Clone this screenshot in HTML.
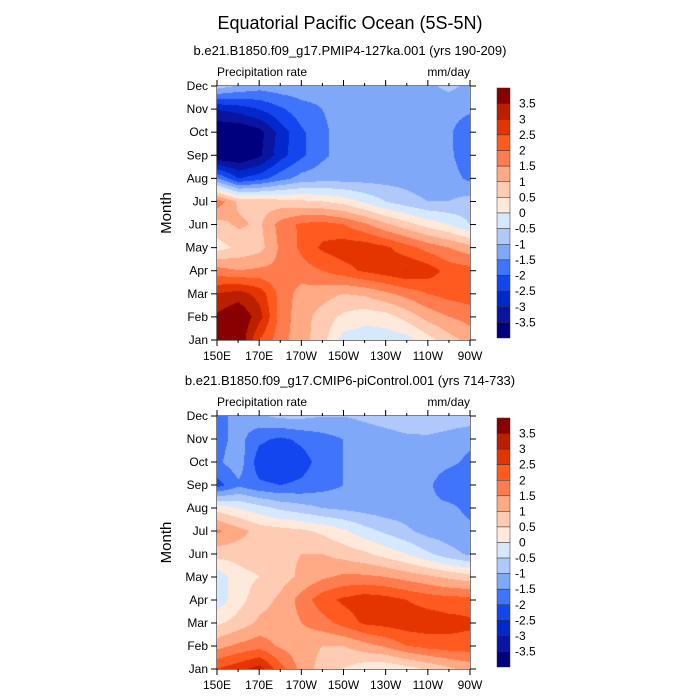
<!DOCTYPE html>
<html><head><meta charset="utf-8"><style>
body{margin:0;background:#fff;width:700px;height:700px;overflow:hidden;font-family:"Liberation Sans",sans-serif}
</style></head><body>
<svg id="svg" width="700" height="700" xmlns="http://www.w3.org/2000/svg" style="position:absolute;left:0;top:0">
<text x="350" y="29" text-anchor="middle" font-size="18">Equatorial Pacific Ocean (5S-5N)</text>
</svg>
<canvas id="c1" width="253" height="254" style="position:absolute;left:217px;top:86px"></canvas>
<canvas id="c2" width="253" height="253" style="position:absolute;left:217px;top:416px"></canvas>
<script>
const months=["Jan","Feb","Mar","Apr","May","Jun","Jul","Aug","Sep","Oct","Nov","Dec"];
const lonLabels=["150E","170E","170W","150W","130W","110W","90W"];
const cbLabels=["3.5","3","2.5","2","1.5","1","0.5","0","-0.5","-1","-1.5","-2","-2.5","-3","-3.5"];
const colors=["#00007f","#0a14a0","#0028cc","#1446f0","#4074fa","#80a8f8","#b0c8fa","#d6e8ff","#ffe9da","#ffcbb3","#ffa985","#ff7c4e","#ff5a20","#e43500","#bb1f00","#880000"];
const data1=[
[3.8,4,2.5,1.7,1.2,0.7,-0.2,-0.3,-0.3,-0.2,0.3,0.8,1.2],
[3.6,4,3.2,1.8,1.2,0.8,0.4,0.2,0.3,0.7,1.2,1.5,1.7],
[3.0,3.2,2.8,1.8,1.3,1.2,1.0,1.1,1.4,1.7,2.0,2.2,2.3],
[1.7,1.5,1.6,1.6,1.8,2.0,2.3,2.6,2.8,3.0,2.8,2.3,2.2],
[0.3,0.6,0.8,1.6,2.1,2.6,2.8,2.8,2.6,2.2,1.8,1.5,1.2],
[0.8,1.1,0.9,1.7,2.1,2.2,2.0,1.6,1.1,0.7,0.3,0.0,-0.5],
[1.8,0.9,0.8,0.7,0.6,0.5,0.3,-0.1,-0.5,-0.8,-1.0,-1.0,-0.8],
[-1.5,-2.5,-2.2,-1.7,-1.3,-1.2,-1.2,-1.2,-1.2,-1.2,-1.3,-1.3,-1.6],
[-4,-4,-3.6,-2.7,-2.1,-1.6,-1.3,-1.3,-1.3,-1.3,-1.3,-1.4,-1.8],
[-4,-4,-3.7,-2.8,-2.1,-1.6,-1.3,-1.3,-1.3,-1.3,-1.3,-1.4,-1.9],
[-3,-2.8,-2.5,-2.1,-1.7,-1.5,-1.3,-1.3,-1.3,-1.3,-1.3,-1.3,-1.4],
[-0.8,-1.1,-1.3,-1.2,-1.2,-1.3,-1.3,-1.3,-1.2,-1.2,-1.1,-0.9,-1.1]];
const data2=[
[2.5,2.8,3.2,2.2,1.3,0.8,0.5,0.2,0.1,0.3,0.6,0.9,1.2],
[1.3,1.6,1.8,1.4,1.2,1.0,1.0,1.3,1.6,2.0,2.2,2.3,2.3],
[0.4,0.7,1.1,1.2,1.5,1.8,2.2,2.6,2.7,2.8,2.8,2.7,2.6],
[-0.3,0.3,0.8,1.1,1.7,2.3,2.6,2.8,2.7,2.5,2.3,2.2,2.2],
[-0.3,0.3,0.5,0.8,1.1,1.4,1.6,1.6,1.5,1.3,1.1,0.9,0.7],
[0.7,0.7,0.8,0.9,1.0,1.0,0.8,0.6,0.3,0.0,-0.4,-0.8,-1.1],
[1.6,1.2,0.8,0.7,0.6,0.4,0.1,-0.3,-0.6,-0.9,-1.2,-1.3,-1.4],
[0.3,0.0,-0.3,-0.6,-0.8,-1.0,-1.1,-1.2,-1.3,-1.3,-1.4,-1.4,-1.6],
[-2.2,-1.6,-1.9,-2.0,-1.9,-1.7,-1.5,-1.3,-1.3,-1.3,-1.4,-1.8,-1.7],
[-1.6,-1.2,-2.3,-2.45,-2.2,-1.8,-1.5,-1.4,-1.3,-1.3,-1.3,-1.4,-1.6],
[-1.7,-1.3,-1.9,-2.1,-1.9,-1.7,-1.5,-1.3,-1.2,-1.1,-1.1,-1.2,-1.4],
[-1.6,-1.4,-1.1,-0.9,-0.9,-1.0,-1.0,-0.9,-0.8,-0.7,-0.6,-0.7,-0.7]];

const NS="http://www.w3.org/2000/svg";
const svg=document.getElementById('svg');
function mk(tag,attrs,name,text){const e=document.createElementNS(NS,tag);for(const k in attrs)e.setAttribute(k,attrs[k]);


if(text!==undefined)e.textContent=text;svg.appendChild(e);return e;}
function hex(c){return [parseInt(c.substr(1,2),16),parseInt(c.substr(3,2),16),parseInt(c.substr(5,2),16)];}
function idx(v){let i=Math.floor((v+3.5)/0.5)+1;return Math.max(0,Math.min(15,i));}
function drawContour(cv,data){
 const ctx=cv.getContext('2d');const W=cv.width,H=cv.height;const img=ctx.createImageData(W,H);
 const nr=data.length,nc=data[0].length;
 for(let py=0;py<H;py++){const fy=(H-1-py)/(H-1)*(nr-1);const r0=Math.min(nr-2,Math.floor(fy));const ty=fy-r0;
  for(let px=0;px<W;px++){const fx=px/(W-1)*(nc-1);const c0=Math.min(nc-2,Math.floor(fx));const tx=fx-c0;
   const v=(data[r0][c0]*(1-tx)+data[r0][c0+1]*tx)*(1-ty)+(data[r0+1][c0]*(1-tx)+data[r0+1][c0+1]*tx)*ty;
   const col=hex(colors[idx(v)]);const o=(py*W+px)*4;img.data[o]=col[0];img.data[o+1]=col[1];img.data[o+2]=col[2];img.data[o+3]=255;}}
 ctx.putImageData(img,0,0);}
drawContour(document.getElementById('c1'),data1);
drawContour(document.getElementById('c2'),data2);

function panel(top,h,sub){
 const L=217,R=470,B=top+h;
 mk('text',{x:350,y:top-31,'text-anchor':'middle','font-size':13},'panel-subtitle',sub);
 mk('text',{x:L,y:top-10,'font-size':12},'variable-label','Precipitation rate');
 mk('text',{x:R,y:top-10,'text-anchor':'end','font-size':12},'units-label','mm/day');
 mk('rect',{x:L,y:top,width:R-L,height:h,fill:'none',stroke:'#000','stroke-width':1},'plot-frame');
 const xs=v=>L+(v/120)*(R-L);
 for(let d=0;d<=120;d+=10){const x=xs(d);const len=d%20==0?6:3;
  mk('line',{x1:x,y1:B,x2:x,y2:B+len,stroke:'#000'},'x-tick');
  mk('line',{x1:x,y1:top,x2:x,y2:top-len,stroke:'#000'},'x-tick-top');}
 lonLabels.forEach((t,i)=>mk('text',{x:xs(i*20),y:B+20,'text-anchor':'middle','font-size':12},'x-tick-label',t));
 months.forEach((m,i)=>{const y=B-i*h/11;
  mk('line',{x1:L,y1:y,x2:L-6,y2:y,stroke:'#000'},'y-tick');
  mk('line',{x1:R,y1:y,x2:R+6,y2:y,stroke:'#000'},'y-tick-right');
  mk('text',{x:L-9,y:y+4,'text-anchor':'end','font-size':12},'y-tick-label',m);});
 mk('text',{x:171,y:top+h/2,'text-anchor':'middle','font-size':15,transform:`rotate(-90 171 ${top+h/2})`},'y-axis-title','Month');
 const cx=497,cw=13,ct=top+2,ch=h-4,bh=ch/16;
 for(let i=0;i<16;i++){mk('rect',{x:cx,y:ct+i*bh,width:cw,height:bh,fill:colors[15-i],stroke:'#333','stroke-width':0.5},'colorbar-box');}
 cbLabels.forEach((t,i)=>mk('text',{x:t[0]=='-'?515:519,y:ct+(i+1)*bh+4,'font-size':12},'colorbar-label',t));
}
panel(86,254,"b.e21.B1850.f09_g17.PMIP4-127ka.001 (yrs 190-209)");
panel(416,253,"b.e21.B1850.f09_g17.CMIP6-piControl.001 (yrs 714-733)");
</script>
</body></html>
